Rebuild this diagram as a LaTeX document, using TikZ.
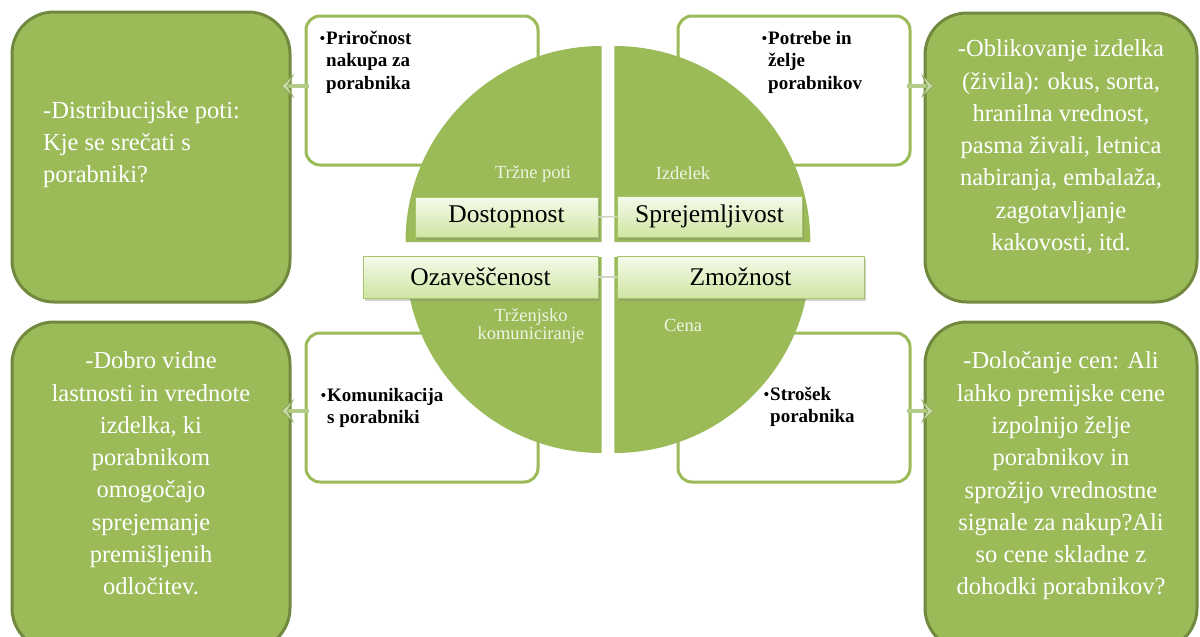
\documentclass[tikz,border=0pt]{standalone}
\usepackage{fontspec}
\setmainfont{Liberation Serif}
\usetikzlibrary{arrows.meta,shadows}
\definecolor{ogreen}{HTML}{9BBB59}
\definecolor{odark}{HTML}{71893F}
\definecolor{lbltop}{HTML}{F5FAEB}
\definecolor{lblbot}{HTML}{CFE6A2}
\definecolor{lblborder}{HTML}{A6C46A}
\definecolor{qtext}{HTML}{EEF4E2}
\definecolor{arrowgreen}{HTML}{B3CC86}
\definecolor{arrowtip}{HTML}{C6DAA2}
\definecolor{arrowedge}{HTML}{8FA95C}
\definecolor{connline}{HTML}{CDD6C0}
\begin{document}
\begin{tikzpicture}[x=1pt,y=-1pt,
  bigbox/.style={draw=odark, line width=3pt, fill=ogreen, rounded corners=42pt, outer sep=0pt, inner sep=0pt},
  whitebox/.style={draw=ogreen, line width=3pt, fill=white, rounded corners=14pt, outer sep=0pt, inner sep=0pt},
  lblbox/.style={draw=lblborder, line width=0.8pt, top color=lbltop, bottom color=lblbot, outer sep=0pt, inner sep=0pt,
     drop shadow={shadow xshift=2pt, shadow yshift=-2.5pt, opacity=0.35}, font=\fontsize{25.5}{28}\selectfont},
  bigtext/.style={text=white, inner sep=0pt, font=\fontsize{24.5}{32.3}\selectfont},
  bullettext/.style={text=black, inner sep=0pt, align=left, anchor=west, font=\fontsize{19}{22.5}\selectfont\bfseries},
  qlabel/.style={text=qtext, inner sep=0pt, align=center, font=\fontsize{18.5}{16.5}\selectfont},
  linkarrow/.style={draw=arrowgreen, line width=4pt,
     -{Stealth[length=13pt,width=24pt,inset=6pt,fill=arrowtip,color=arrowedge,line width=0.8pt]}},
  conn/.style={draw=connline, line width=1.5pt}
]
\newcommand{\blt}{\llap{\fontsize{15}{15}\selectfont\raisebox{1pt}{•}\hspace{1pt}}}
\useasboundingbox (0,0) rectangle (1200,637);
\clip (0,0) rectangle (1200,637);

% white boxes
\node[whitebox, minimum width=232pt, minimum height=149pt] (wtl) at (422,90.5) {};
\node[whitebox, minimum width=232pt, minimum height=149pt] (wtr) at (794,90.5) {};
\node[whitebox, minimum width=232pt, minimum height=149pt] (wbl) at (422,407.5) {};
\node[whitebox, minimum width=232pt, minimum height=149pt] (wbr) at (794,407.5) {};

% quadrants
\fill[ogreen] (601.5,242) -- (405.5,242) arc[start angle=180, end angle=270, radius=196] -- cycle;
\fill[ogreen] (614.3,242) -- (614.3,46) arc[start angle=270, end angle=360, radius=196] -- cycle;
\fill[ogreen] (601.5,257) -- (405.5,257) arc[start angle=180, end angle=90, radius=196] -- cycle;
\fill[ogreen] (614.3,257) -- (810.3,257) arc[start angle=0, end angle=90, radius=196] -- cycle;

% quadrant labels
\node[qlabel] (ql1) at (533,174) {Tržne poti};
\node[qlabel] (ql2) at (683,173) {Izdelek};
\node[qlabel] (ql3) at (531,326) {Trženjsko\\komuniciranje};
\node[qlabel] (ql4) at (683,325) {Cena};

% label boxes
\node[lblbox, minimum width=183pt, minimum height=40pt] (dost) at (506.5,217) {Dostopnost};
\node[lblbox, minimum width=185pt, minimum height=41pt] (spre) at (709.5,216.5) {Sprejemljivost};
\node[lblbox, minimum width=235pt, minimum height=42pt] (ozav) at (480.5,277) {Ozaveščenost};
\node[lblbox, minimum width=247pt, minimum height=42pt] (zmoz) at (740.5,277) {Zmožnost};
\draw[conn] (dost.east) -- (spre.west);
\draw[conn] (ozav.east) -- (zmoz.west);

% bullet texts
\node[bullettext] (btl) at (326,62) {\blt Priročnost\\nakupa za\\porabnika};
\node[bullettext] (btr) at (768,62) {\blt Potrebe in\\želje\\porabnikov};
\node[bullettext] (bbl) at (327,408) {\blt Komunikacija\\s porabniki};
\node[bullettext] (bbr) at (770,407) {\blt Strošek\\porabnika};

% big green boxes
\node[bigbox, minimum width=278pt, minimum height=290pt] (gtl) at (151,157) {};
\node[bigbox, minimum width=272pt, minimum height=289pt] (gtr) at (1061,157.5) {};
\node[bigbox, minimum width=278pt, minimum height=328pt] (gbl) at (151,486) {};
\node[bigbox, minimum width=272pt, minimum height=328pt] (gbr) at (1061,486) {};

\node[bigtext, align=left, anchor=west] (ttl) at (43,144.5) {-Distribucijske poti:\\Kje se srečati s\\porabniki?};
\node[bigtext, align=center] (ttr) at (1061,147) {-Oblikovanje izdelka\\(živila): okus, sorta,\\hranilna vrednost,\\pasma živali, letnica\\nabiranja, embalaža,\\zagotavljanje\\kakovosti, itd.};
\node[bigtext, align=center] (tbl) at (151,473.5) {-Dobro vidne\\lastnosti in vrednote\\izdelka, ki\\porabnikom\\omogočajo\\sprejemanje\\premišljenih\\odločitev.};
\node[bigtext, align=center] (tbr) at (1061,476) {-Določanje cen: Ali\\lahko premijske cene\\izpolnijo želje\\porabnikov in\\sprožijo vrednostne\\signale za nakup?Ali\\so cene skladne z\\dohodki porabnikov?};

% arrows
\draw[linkarrow] ([xshift=3pt,yshift=4.5pt]wtl.west) -- ([xshift=-9pt,yshift=4.5pt]wtl.west -| gtl.east);
\draw[linkarrow] ([xshift=-3pt,yshift=4.5pt]wtr.east) -- ([xshift=9pt,yshift=4.5pt]wtr.east -| gtr.west);
\draw[linkarrow] ([xshift=3pt,yshift=-3.5pt]wbl.west) -- ([xshift=-9pt,yshift=-3.5pt]wbl.west -| gbl.east);
\draw[linkarrow] ([xshift=-3pt,yshift=-3.5pt]wbr.east) -- ([xshift=9pt,yshift=-3.5pt]wbr.east -| gbr.west);
\end{tikzpicture}
\end{document}
